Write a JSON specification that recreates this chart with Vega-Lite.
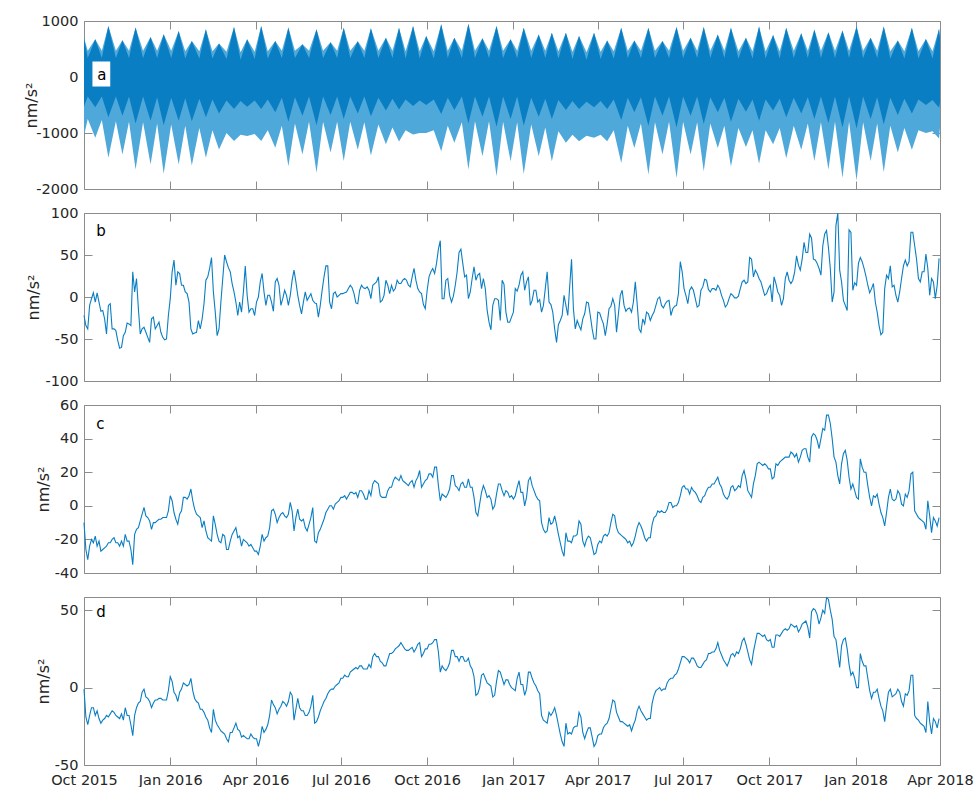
{
"$schema":"https://vega.github.io/schema/vega-lite/v6.json",
"padding":{"left":22,"top":12,"right":30,"bottom":0},
"background":"white",
"spacing":24,
"bounds":"flush",
"config":{
 "view":{"stroke":"#8c8c8c","strokeWidth":1},
 "font":"DejaVu Sans",
 "axis":{"labelFont":"DejaVu Sans","labelFontSize":14.5,"labelColor":"#262626","titleFont":"DejaVu Sans","titleFontSize":16,"titleFontWeight":"normal","titleColor":"#262626","grid":false,"domain":false,"tickColor":"#8c8c8c","tickSize":-8,"labelPadding":14}
},
"datasets":{
"tide":[
{"date":"2015-10-01","hi":700,"dhi":700,"lo":-1050,"dlo":-525},
{"date":"2015-10-05","hi":470,"dhi":340,"lo":-750,"dlo":-350},
{"date":"2015-10-13","hi":674,"dhi":674,"lo":-1085,"dlo":-540},
{"date":"2015-10-20","hi":470,"dhi":340,"lo":-770,"dlo":-350},
{"date":"2015-10-27","hi":912,"dhi":912,"lo":-1443,"dlo":-720},
{"date":"2015-11-04","hi":470,"dhi":340,"lo":-790,"dlo":-350},
{"date":"2015-11-11","hi":656,"dhi":656,"lo":-1383,"dlo":-690},
{"date":"2015-11-18","hi":470,"dhi":340,"lo":-800,"dlo":-350},
{"date":"2015-11-25","hi":883,"dhi":883,"lo":-1652,"dlo":-830},
{"date":"2015-12-03","hi":470,"dhi":340,"lo":-810,"dlo":-350},
{"date":"2015-12-11","hi":716,"dhi":716,"lo":-1562,"dlo":-780},
{"date":"2015-12-18","hi":470,"dhi":340,"lo":-830,"dlo":-360},
{"date":"2015-12-25","hi":763,"dhi":763,"lo":-1729,"dlo":-860},
{"date":"2016-01-02","hi":470,"dhi":340,"lo":-850,"dlo":-370},
{"date":"2016-01-10","hi":823,"dhi":823,"lo":-1562,"dlo":-780},
{"date":"2016-01-17","hi":460,"dhi":330,"lo":-870,"dlo":-380},
{"date":"2016-01-24","hi":644,"dhi":644,"lo":-1580,"dlo":-790},
{"date":"2016-02-01","hi":460,"dhi":330,"lo":-910,"dlo":-390},
{"date":"2016-02-08","hi":853,"dhi":853,"lo":-1443,"dlo":-720},
{"date":"2016-02-15","hi":460,"dhi":330,"lo":-950,"dlo":-400},
{"date":"2016-02-22","hi":596,"dhi":596,"lo":-1294,"dlo":-650},
{"date":"2016-03-01","hi":450,"dhi":320,"lo":-1000,"dlo":-420},
{"date":"2016-03-09","hi":894,"dhi":894,"lo":-1145,"dlo":-570},
{"date":"2016-03-16","hi":440,"dhi":310,"lo":-1030,"dlo":-430},
{"date":"2016-03-23","hi":674,"dhi":674,"lo":-1055,"dlo":-530},
{"date":"2016-03-31","hi":450,"dhi":320,"lo":-1020,"dlo":-420},
{"date":"2016-04-07","hi":912,"dhi":912,"lo":-1145,"dlo":-570},
{"date":"2016-04-14","hi":460,"dhi":330,"lo":-950,"dlo":-400},
{"date":"2016-04-22","hi":644,"dhi":644,"lo":-1264,"dlo":-630},
{"date":"2016-04-29","hi":470,"dhi":340,"lo":-870,"dlo":-370},
{"date":"2016-05-06","hi":883,"dhi":883,"lo":-1592,"dlo":-800},
{"date":"2016-05-13","hi":470,"dhi":340,"lo":-830,"dlo":-360},
{"date":"2016-05-21","hi":584,"dhi":584,"lo":-1383,"dlo":-690},
{"date":"2016-05-28","hi":470,"dhi":340,"lo":-800,"dlo":-350},
{"date":"2016-06-05","hi":853,"dhi":853,"lo":-1711,"dlo":-860},
{"date":"2016-06-12","hi":470,"dhi":340,"lo":-800,"dlo":-350},
{"date":"2016-06-20","hi":620,"dhi":620,"lo":-1350,"dlo":-680},
{"date":"2016-06-27","hi":470,"dhi":340,"lo":-800,"dlo":-350},
{"date":"2016-07-04","hi":880,"dhi":880,"lo":-1500,"dlo":-750},
{"date":"2016-07-11","hi":470,"dhi":340,"lo":-800,"dlo":-350},
{"date":"2016-07-19","hi":640,"dhi":640,"lo":-1300,"dlo":-650},
{"date":"2016-07-26","hi":470,"dhi":340,"lo":-810,"dlo":-350},
{"date":"2016-08-02","hi":870,"dhi":870,"lo":-1400,"dlo":-700},
{"date":"2016-08-10","hi":470,"dhi":340,"lo":-850,"dlo":-370},
{"date":"2016-08-18","hi":700,"dhi":700,"lo":-1200,"dlo":-600},
{"date":"2016-08-25","hi":470,"dhi":340,"lo":-900,"dlo":-390},
{"date":"2016-09-01","hi":880,"dhi":880,"lo":-1150,"dlo":-580},
{"date":"2016-09-08","hi":460,"dhi":330,"lo":-950,"dlo":-400},
{"date":"2016-09-16","hi":910,"dhi":910,"lo":-1027,"dlo":-520},
{"date":"2016-09-23","hi":460,"dhi":330,"lo":-1000,"dlo":-420},
{"date":"2016-09-30","hi":732,"dhi":732,"lo":-1000,"dlo":-500},
{"date":"2016-10-08","hi":460,"dhi":330,"lo":-950,"dlo":-400},
{"date":"2016-10-16","hi":940,"dhi":940,"lo":-1326,"dlo":-660},
{"date":"2016-10-23","hi":470,"dhi":340,"lo":-870,"dlo":-370},
{"date":"2016-10-30","hi":702,"dhi":702,"lo":-1176,"dlo":-590},
{"date":"2016-11-07","hi":470,"dhi":340,"lo":-810,"dlo":-350},
{"date":"2016-11-14","hi":952,"dhi":952,"lo":-1654,"dlo":-830},
{"date":"2016-11-21","hi":470,"dhi":340,"lo":-790,"dlo":-350},
{"date":"2016-11-29","hi":690,"dhi":690,"lo":-1415,"dlo":-710},
{"date":"2016-12-06","hi":470,"dhi":340,"lo":-790,"dlo":-350},
{"date":"2016-12-14","hi":910,"dhi":910,"lo":-1773,"dlo":-890},
{"date":"2016-12-21","hi":470,"dhi":340,"lo":-800,"dlo":-350},
{"date":"2016-12-29","hi":672,"dhi":672,"lo":-1504,"dlo":-750},
{"date":"2017-01-05","hi":470,"dhi":340,"lo":-810,"dlo":-350},
{"date":"2017-01-12","hi":881,"dhi":881,"lo":-1731,"dlo":-870},
{"date":"2017-01-20","hi":470,"dhi":340,"lo":-850,"dlo":-370},
{"date":"2017-01-28","hi":761,"dhi":761,"lo":-1415,"dlo":-710},
{"date":"2017-02-04","hi":470,"dhi":340,"lo":-900,"dlo":-390},
{"date":"2017-02-11","hi":791,"dhi":791,"lo":-1504,"dlo":-750},
{"date":"2017-02-18","hi":460,"dhi":330,"lo":-970,"dlo":-410},
{"date":"2017-02-26","hi":791,"dhi":791,"lo":-1176,"dlo":-590},
{"date":"2017-03-05","hi":450,"dhi":320,"lo":-1030,"dlo":-430},
{"date":"2017-03-12","hi":732,"dhi":732,"lo":-1147,"dlo":-570},
{"date":"2017-03-20","hi":440,"dhi":310,"lo":-1050,"dlo":-440},
{"date":"2017-03-28","hi":791,"dhi":791,"lo":-1087,"dlo":-540},
{"date":"2017-04-04","hi":450,"dhi":320,"lo":-1030,"dlo":-430},
{"date":"2017-04-11","hi":654,"dhi":654,"lo":-1147,"dlo":-570},
{"date":"2017-04-18","hi":460,"dhi":330,"lo":-950,"dlo":-400},
{"date":"2017-04-26","hi":881,"dhi":881,"lo":-1534,"dlo":-770},
{"date":"2017-05-03","hi":470,"dhi":340,"lo":-870,"dlo":-370},
{"date":"2017-05-10","hi":654,"dhi":654,"lo":-1266,"dlo":-630},
{"date":"2017-05-17","hi":470,"dhi":340,"lo":-830,"dlo":-360},
{"date":"2017-05-25","hi":881,"dhi":881,"lo":-1743,"dlo":-870},
{"date":"2017-06-01","hi":470,"dhi":340,"lo":-810,"dlo":-350},
{"date":"2017-06-09","hi":642,"dhi":642,"lo":-1385,"dlo":-690},
{"date":"2017-06-16","hi":470,"dhi":340,"lo":-800,"dlo":-350},
{"date":"2017-06-24","hi":893,"dhi":893,"lo":-1803,"dlo":-900},
{"date":"2017-07-01","hi":470,"dhi":340,"lo":-800,"dlo":-350},
{"date":"2017-07-09","hi":702,"dhi":702,"lo":-1385,"dlo":-690},
{"date":"2017-07-16","hi":470,"dhi":340,"lo":-810,"dlo":-350},
{"date":"2017-07-23","hi":893,"dhi":893,"lo":-1684,"dlo":-840},
{"date":"2017-07-30","hi":470,"dhi":340,"lo":-830,"dlo":-360},
{"date":"2017-08-07","hi":761,"dhi":761,"lo":-1266,"dlo":-630},
{"date":"2017-08-14","hi":470,"dhi":340,"lo":-870,"dlo":-370},
{"date":"2017-08-21","hi":880,"dhi":880,"lo":-1600,"dlo":-800},
{"date":"2017-08-29","hi":460,"dhi":330,"lo":-910,"dlo":-390},
{"date":"2017-09-06","hi":700,"dhi":700,"lo":-1250,"dlo":-620},
{"date":"2017-09-13","hi":460,"dhi":330,"lo":-950,"dlo":-400},
{"date":"2017-09-20","hi":900,"dhi":900,"lo":-1550,"dlo":-780},
{"date":"2017-09-27","hi":460,"dhi":330,"lo":-950,"dlo":-400},
{"date":"2017-10-05","hi":750,"dhi":750,"lo":-1200,"dlo":-600},
{"date":"2017-10-12","hi":460,"dhi":330,"lo":-910,"dlo":-390},
{"date":"2017-10-19","hi":880,"dhi":880,"lo":-1450,"dlo":-720},
{"date":"2017-10-27","hi":470,"dhi":340,"lo":-870,"dlo":-370},
{"date":"2017-11-04","hi":780,"dhi":780,"lo":-1300,"dlo":-650},
{"date":"2017-11-11","hi":470,"dhi":340,"lo":-830,"dlo":-360},
{"date":"2017-11-18","hi":850,"dhi":850,"lo":-1500,"dlo":-750},
{"date":"2017-11-25","hi":470,"dhi":340,"lo":-810,"dlo":-350},
{"date":"2017-12-03","hi":800,"dhi":800,"lo":-1650,"dlo":-820},
{"date":"2017-12-10","hi":470,"dhi":340,"lo":-800,"dlo":-350},
{"date":"2017-12-18","hi":830,"dhi":830,"lo":-1800,"dlo":-900},
{"date":"2017-12-25","hi":470,"dhi":340,"lo":-800,"dlo":-350},
{"date":"2018-01-02","hi":900,"dhi":900,"lo":-1850,"dlo":-920},
{"date":"2018-01-09","hi":470,"dhi":340,"lo":-810,"dlo":-350},
{"date":"2018-01-17","hi":700,"dhi":700,"lo":-1500,"dlo":-750},
{"date":"2018-01-24","hi":470,"dhi":340,"lo":-830,"dlo":-360},
{"date":"2018-01-31","hi":900,"dhi":900,"lo":-1700,"dlo":-850},
{"date":"2018-02-07","hi":460,"dhi":330,"lo":-870,"dlo":-370},
{"date":"2018-02-15","hi":650,"dhi":650,"lo":-1350,"dlo":-680},
{"date":"2018-02-22","hi":460,"dhi":330,"lo":-910,"dlo":-390},
{"date":"2018-03-02","hi":880,"dhi":880,"lo":-1300,"dlo":-650},
{"date":"2018-03-09","hi":460,"dhi":330,"lo":-950,"dlo":-400},
{"date":"2018-03-17","hi":680,"dhi":680,"lo":-1000,"dlo":-500},
{"date":"2018-03-24","hi":460,"dhi":330,"lo":-970,"dlo":-410},
{"date":"2018-03-31","hi":860,"dhi":860,"lo":-1100,"dlo":-550},
{"date":"2018-04-01","hi":700,"dhi":700,"lo":-900,"dlo":-450}
],
"bcd":[
{"date":"2015-10-01","b":-22,"c":-10,"d":-1},
{"date":"2015-10-05","b":-38,"c":-32,"d":-24},
{"date":"2015-10-09","b":-2,"c":-20,"d":-13},
{"date":"2015-10-13","b":-6,"c":-18,"d":-18},
{"date":"2015-10-17","b":-6,"c":-21,"d":-20},
{"date":"2015-10-21","b":-16,"c":-26,"d":-21},
{"date":"2015-10-25","b":-44,"c":-24,"d":-18},
{"date":"2015-10-29","b":-8,"c":-22,"d":-17},
{"date":"2015-11-02","b":-38,"c":-19,"d":-16},
{"date":"2015-11-06","b":-52,"c":-22,"d":-19},
{"date":"2015-11-10","b":-60,"c":-21,"d":-17},
{"date":"2015-11-14","b":-42,"c":-17,"d":-13},
{"date":"2015-11-18","b":-32,"c":-21,"d":-18},
{"date":"2015-11-22","b":30,"c":-35,"d":-31},
{"date":"2015-11-26","b":22,"c":-14,"d":-13},
{"date":"2015-11-30","b":-44,"c":-9,"d":-9},
{"date":"2015-12-04","b":-36,"c":-1,"d":-1},
{"date":"2015-12-08","b":-48,"c":-7,"d":-7},
{"date":"2015-12-12","b":-26,"c":-14,"d":-13},
{"date":"2015-12-16","b":-38,"c":-10,"d":-8},
{"date":"2015-12-20","b":-30,"c":-8,"d":-7},
{"date":"2015-12-24","b":-48,"c":-7,"d":-8},
{"date":"2015-12-28","b":-50,"c":-7,"d":-8},
{"date":"2016-01-01","b":-2,"c":6,"d":7},
{"date":"2016-01-05","b":44,"c":-4,"d":-3},
{"date":"2016-01-09","b":30,"c":-11,"d":-9},
{"date":"2016-01-13","b":14,"c":-3,"d":-1},
{"date":"2016-01-17","b":6,"c":5,"d":2},
{"date":"2016-01-21","b":-6,"c":6,"d":2},
{"date":"2016-01-25","b":-44,"c":3,"d":-2},
{"date":"2016-01-29","b":-42,"c":-5,"d":-9},
{"date":"2016-02-02","b":-38,"c":-7,"d":-14},
{"date":"2016-02-06","b":-8,"c":-9,"d":-16},
{"date":"2016-02-10","b":24,"c":-19,"d":-21},
{"date":"2016-02-14","b":47,"c":-21,"d":-29},
{"date":"2016-02-18","b":-18,"c":-11,"d":-21},
{"date":"2016-02-22","b":-38,"c":-21,"d":-26},
{"date":"2016-02-26","b":22,"c":-17,"d":-29},
{"date":"2016-03-01","b":42,"c":-26,"d":-33},
{"date":"2016-03-05","b":30,"c":-21,"d":-29},
{"date":"2016-03-09","b":6,"c":-15,"d":-26},
{"date":"2016-03-13","b":-22,"c":-19,"d":-27},
{"date":"2016-03-17","b":-18,"c":-24,"d":-32},
{"date":"2016-03-21","b":37,"c":-21,"d":-32},
{"date":"2016-03-25","b":-18,"c":-24,"d":-33},
{"date":"2016-03-29","b":-14,"c":-25,"d":-32},
{"date":"2016-04-02","b":-6,"c":-27,"d":-33},
{"date":"2016-04-06","b":18,"c":-24,"d":-33},
{"date":"2016-04-10","b":6,"c":-21,"d":-29},
{"date":"2016-04-14","b":2,"c":-18,"d":-24},
{"date":"2016-04-18","b":-6,"c":-3,"d":-8},
{"date":"2016-04-22","b":18,"c":-5,"d":-13},
{"date":"2016-04-26","b":14,"c":-7,"d":-14},
{"date":"2016-04-30","b":-2,"c":-4,"d":-9},
{"date":"2016-05-04","b":2,"c":-7,"d":-12},
{"date":"2016-05-08","b":2,"c":2,"d":-3},
{"date":"2016-05-12","b":32,"c":-15,"d":-21},
{"date":"2016-05-16","b":2,"c":-2,"d":-7},
{"date":"2016-05-20","b":-20,"c":-9,"d":-15},
{"date":"2016-05-24","b":6,"c":-13,"d":-18},
{"date":"2016-05-28","b":0,"c":-11,"d":-16},
{"date":"2016-06-01","b":-4,"c":-1,"d":-5},
{"date":"2016-06-05","b":-8,"c":-22,"d":-22},
{"date":"2016-06-09","b":-10,"c":-14,"d":-15},
{"date":"2016-06-13","b":24,"c":-8,"d":-9},
{"date":"2016-06-17","b":37,"c":-2,"d":-4},
{"date":"2016-06-21","b":-14,"c":0,"d":-1},
{"date":"2016-06-25","b":6,"c":1,"d":1},
{"date":"2016-06-29","b":2,"c":3,"d":3},
{"date":"2016-07-03","b":4,"c":5,"d":6},
{"date":"2016-07-07","b":6,"c":4,"d":7},
{"date":"2016-07-11","b":14,"c":8,"d":10},
{"date":"2016-07-15","b":4,"c":7,"d":12},
{"date":"2016-07-19","b":-8,"c":5,"d":12},
{"date":"2016-07-23","b":14,"c":9,"d":14},
{"date":"2016-07-27","b":10,"c":4,"d":12},
{"date":"2016-07-31","b":8,"c":9,"d":15},
{"date":"2016-08-04","b":14,"c":13,"d":20},
{"date":"2016-08-08","b":18,"c":14,"d":20},
{"date":"2016-08-12","b":-6,"c":6,"d":17},
{"date":"2016-08-16","b":2,"c":5,"d":14},
{"date":"2016-08-20","b":14,"c":9,"d":18},
{"date":"2016-08-24","b":14,"c":11,"d":22},
{"date":"2016-08-28","b":10,"c":17,"d":25},
{"date":"2016-09-01","b":16,"c":15,"d":27},
{"date":"2016-09-05","b":20,"c":15,"d":27},
{"date":"2016-09-09","b":20,"c":13,"d":24},
{"date":"2016-09-13","b":12,"c":14,"d":25},
{"date":"2016-09-17","b":34,"c":11,"d":23},
{"date":"2016-09-21","b":10,"c":17,"d":28},
{"date":"2016-09-25","b":4,"c":11,"d":20},
{"date":"2016-09-29","b":-14,"c":15,"d":25},
{"date":"2016-10-03","b":24,"c":19,"d":28},
{"date":"2016-10-07","b":34,"c":17,"d":29},
{"date":"2016-10-11","b":40,"c":23,"d":31},
{"date":"2016-10-15","b":67,"c":3,"d":10},
{"date":"2016-10-19","b":-2,"c":6,"d":12},
{"date":"2016-10-23","b":22,"c":7,"d":13},
{"date":"2016-10-27","b":-6,"c":18,"d":24},
{"date":"2016-10-31","b":14,"c":12,"d":20},
{"date":"2016-11-04","b":53,"c":9,"d":17},
{"date":"2016-11-08","b":40,"c":14,"d":20},
{"date":"2016-11-12","b":26,"c":11,"d":17},
{"date":"2016-11-16","b":6,"c":11,"d":14},
{"date":"2016-11-20","b":36,"c":5,"d":7},
{"date":"2016-11-24","b":26,"c":-6,"d":-4},
{"date":"2016-11-28","b":10,"c":8,"d":8},
{"date":"2016-12-02","b":10,"c":9,"d":6},
{"date":"2016-12-06","b":-30,"c":6,"d":2},
{"date":"2016-12-10","b":-10,"c":-2,"d":-6},
{"date":"2016-12-14","b":-2,"c":7,"d":4},
{"date":"2016-12-18","b":-28,"c":13,"d":10},
{"date":"2016-12-22","b":15,"c":6,"d":2},
{"date":"2016-12-26","b":-30,"c":8,"d":5},
{"date":"2016-12-30","b":-24,"c":6,"d":0},
{"date":"2017-01-03","b":10,"c":6,"d":-2},
{"date":"2017-01-07","b":14,"c":15,"d":10},
{"date":"2017-01-11","b":30,"c":8,"d":2},
{"date":"2017-01-15","b":18,"c":5,"d":-1},
{"date":"2017-01-19","b":-10,"c":17,"d":10},
{"date":"2017-01-23","b":8,"c":9,"d":3},
{"date":"2017-01-27","b":-6,"c":4,"d":-2},
{"date":"2017-01-31","b":-18,"c":-10,"d":-18},
{"date":"2017-02-04","b":10,"c":-16,"d":-22},
{"date":"2017-02-08","b":-6,"c":-7,"d":-16},
{"date":"2017-02-12","b":-18,"c":-10,"d":-16},
{"date":"2017-02-16","b":-54,"c":-11,"d":-18},
{"date":"2017-02-20","b":-28,"c":-22,"d":-30},
{"date":"2017-02-24","b":2,"c":-30,"d":-38},
{"date":"2017-02-28","b":-22,"c":-21,"d":-30},
{"date":"2017-03-04","b":45,"c":-22,"d":-30},
{"date":"2017-03-08","b":-38,"c":-18,"d":-25},
{"date":"2017-03-12","b":-34,"c":-9,"d":-16},
{"date":"2017-03-16","b":-26,"c":-21,"d":-29},
{"date":"2017-03-20","b":-6,"c":-20,"d":-29},
{"date":"2017-03-24","b":-22,"c":-19,"d":-26},
{"date":"2017-03-28","b":-50,"c":-29,"d":-38},
{"date":"2017-04-01","b":-18,"c":-23,"d":-31},
{"date":"2017-04-05","b":-26,"c":-22,"d":-30},
{"date":"2017-04-09","b":-46,"c":-17,"d":-24},
{"date":"2017-04-13","b":-14,"c":-16,"d":-20},
{"date":"2017-04-17","b":-2,"c":-5,"d":-8},
{"date":"2017-04-21","b":-42,"c":-13,"d":-16},
{"date":"2017-04-25","b":2,"c":-17,"d":-22},
{"date":"2017-04-29","b":-10,"c":-19,"d":-23},
{"date":"2017-05-03","b":-14,"c":-22,"d":-25},
{"date":"2017-05-07","b":-18,"c":-24,"d":-28},
{"date":"2017-05-11","b":18,"c":-18,"d":-21},
{"date":"2017-05-15","b":-38,"c":-10,"d":-12},
{"date":"2017-05-19","b":-26,"c":-15,"d":-17},
{"date":"2017-05-23","b":-18,"c":-21,"d":-21},
{"date":"2017-05-27","b":-28,"c":-19,"d":-20},
{"date":"2017-05-31","b":-18,"c":-7,"d":-5},
{"date":"2017-06-04","b":-2,"c":-3,"d":-1},
{"date":"2017-06-08","b":-10,"c":-3,"d":-2},
{"date":"2017-06-12","b":-8,"c":-4,"d":-1},
{"date":"2017-06-16","b":-4,"c":2,"d":5},
{"date":"2017-06-20","b":-14,"c":-1,"d":6},
{"date":"2017-06-24","b":-10,"c":0,"d":9},
{"date":"2017-06-28","b":42,"c":6,"d":16},
{"date":"2017-07-02","b":10,"c":12,"d":20},
{"date":"2017-07-06","b":-8,"c":10,"d":18},
{"date":"2017-07-10","b":12,"c":11,"d":19},
{"date":"2017-07-14","b":-2,"c":8,"d":17},
{"date":"2017-07-18","b":-10,"c":3,"d":13},
{"date":"2017-07-22","b":12,"c":5,"d":15},
{"date":"2017-07-26","b":20,"c":9,"d":18},
{"date":"2017-07-30","b":6,"c":11,"d":22},
{"date":"2017-08-03","b":10,"c":13,"d":23},
{"date":"2017-08-07","b":14,"c":17,"d":29},
{"date":"2017-08-11","b":2,"c":11,"d":21},
{"date":"2017-08-15","b":-12,"c":5,"d":16},
{"date":"2017-08-19","b":-2,"c":6,"d":17},
{"date":"2017-08-23","b":2,"c":12,"d":22},
{"date":"2017-08-27","b":-1,"c":10,"d":23},
{"date":"2017-08-31","b":10,"c":11,"d":25},
{"date":"2017-09-04","b":20,"c":21,"d":32},
{"date":"2017-09-08","b":18,"c":9,"d":23},
{"date":"2017-09-12","b":45,"c":5,"d":15},
{"date":"2017-09-16","b":32,"c":18,"d":29},
{"date":"2017-09-20","b":22,"c":26,"d":35},
{"date":"2017-09-24","b":10,"c":24,"d":33},
{"date":"2017-09-28","b":4,"c":24,"d":31},
{"date":"2017-10-02","b":14,"c":22,"d":31},
{"date":"2017-10-06","b":24,"c":17,"d":26},
{"date":"2017-10-10","b":6,"c":24,"d":34},
{"date":"2017-10-14","b":-10,"c":27,"d":35},
{"date":"2017-10-18","b":22,"c":29,"d":38},
{"date":"2017-10-22","b":20,"c":29,"d":38},
{"date":"2017-10-26","b":20,"c":31,"d":40},
{"date":"2017-10-30","b":49,"c":31,"d":40},
{"date":"2017-11-03","b":32,"c":29,"d":38},
{"date":"2017-11-07","b":65,"c":34,"d":42},
{"date":"2017-11-11","b":53,"c":29,"d":39},
{"date":"2017-11-15","b":70,"c":41,"d":49},
{"date":"2017-11-19","b":44,"c":42,"d":50},
{"date":"2017-11-23","b":34,"c":34,"d":41},
{"date":"2017-11-27","b":61,"c":46,"d":50},
{"date":"2017-12-01","b":79,"c":54,"d":58},
{"date":"2017-12-05","b":34,"c":49,"d":50},
{"date":"2017-12-09","b":6,"c":29,"d":33},
{"date":"2017-12-13","b":100,"c":18,"d":22},
{"date":"2017-12-17","b":18,"c":25,"d":27},
{"date":"2017-12-21","b":-10,"c":33,"d":32},
{"date":"2017-12-25","b":80,"c":17,"d":15},
{"date":"2017-12-29","b":8,"c":13,"d":10},
{"date":"2018-01-02","b":14,"c":5,"d":0},
{"date":"2018-01-06","b":47,"c":28,"d":22},
{"date":"2018-01-10","b":34,"c":20,"d":14},
{"date":"2018-01-14","b":14,"c":12,"d":6},
{"date":"2018-01-18","b":10,"c":0,"d":-7},
{"date":"2018-01-22","b":-6,"c":5,"d":-3},
{"date":"2018-01-26","b":-34,"c":1,"d":-7},
{"date":"2018-01-30","b":-42,"c":-7,"d":-15},
{"date":"2018-02-03","b":26,"c":-4,"d":-12},
{"date":"2018-02-07","b":37,"c":10,"d":-1},
{"date":"2018-02-11","b":14,"c":3,"d":-5},
{"date":"2018-02-15","b":-6,"c":9,"d":-1},
{"date":"2018-02-19","b":22,"c":1,"d":-9},
{"date":"2018-02-23","b":44,"c":7,"d":-4},
{"date":"2018-02-27","b":42,"c":9,"d":-2},
{"date":"2018-03-03","b":77,"c":20,"d":8},
{"date":"2018-03-07","b":45,"c":-5,"d":-20},
{"date":"2018-03-11","b":18,"c":-8,"d":-23},
{"date":"2018-03-15","b":30,"c":-10,"d":-25},
{"date":"2018-03-19","b":34,"c":3,"d":-9},
{"date":"2018-03-23","b":22,"c":-16,"d":-30},
{"date":"2018-03-27","b":-2,"c":-9,"d":-22},
{"date":"2018-03-31","b":46,"c":-7,"d":-20},
{"date":"2015-10-03","b":-34,"c":-26,"d":-19},
{"date":"2015-10-07","b":-10,"c":-24,"d":-18},
{"date":"2015-10-11","b":5,"c":-22,"d":-13},
{"date":"2015-10-15","b":5,"c":-24,"d":-15},
{"date":"2015-10-19","b":-17,"c":-27,"d":-23},
{"date":"2015-10-23","b":-26,"c":-25,"d":-20},
{"date":"2015-10-27","b":-10,"c":-22,"d":-19},
{"date":"2015-10-31","b":-38,"c":-20,"d":-15},
{"date":"2015-11-04","b":-40,"c":-22,"d":-18},
{"date":"2015-11-08","b":-61,"c":-24,"d":-20},
{"date":"2015-11-12","b":-46,"c":-24,"d":-21},
{"date":"2015-11-16","b":-31,"c":-21,"d":-18},
{"date":"2015-11-20","b":-34,"c":-26,"d":-24},
{"date":"2015-11-24","b":6,"c":-17,"d":-18},
{"date":"2015-11-28","b":-14,"c":-13,"d":-10},
{"date":"2015-12-02","b":-38,"c":-5,"d":-3},
{"date":"2015-12-06","b":-42,"c":-6,"d":-6},
{"date":"2015-12-10","b":-54,"c":-9,"d":-9},
{"date":"2015-12-14","b":-24,"c":-10,"d":-10},
{"date":"2015-12-18","b":-34,"c":-9,"d":-8},
{"date":"2015-12-22","b":-42,"c":-8,"d":-7},
{"date":"2015-12-26","b":-51,"c":-7,"d":-8},
{"date":"2015-12-30","b":-22,"c":-3,"d":-2},
{"date":"2016-01-03","b":30,"c":3,"d":4},
{"date":"2016-01-07","b":14,"c":-8,"d":-5},
{"date":"2016-01-11","b":28,"c":-5,"d":-3},
{"date":"2016-01-15","b":14,"c":5,"d":3},
{"date":"2016-01-19","b":4,"c":4,"d":1},
{"date":"2016-01-23","b":-38,"c":10,"d":6},
{"date":"2016-01-27","b":-43,"c":-2,"d":-7},
{"date":"2016-01-31","b":-28,"c":-6,"d":-10},
{"date":"2016-02-04","b":-26,"c":-13,"d":-14},
{"date":"2016-02-08","b":20,"c":-15,"d":-19},
{"date":"2016-02-12","b":34,"c":-20,"d":-26},
{"date":"2016-02-16","b":6,"c":-6,"d":-14},
{"date":"2016-02-20","b":-46,"c":-17,"d":-24},
{"date":"2016-02-24","b":-6,"c":-22,"d":-28},
{"date":"2016-02-28","b":50,"c":-18,"d":-30},
{"date":"2016-03-03","b":35,"c":-26,"d":-35},
{"date":"2016-03-07","b":16,"c":-17,"d":-29},
{"date":"2016-03-11","b":-6,"c":-13,"d":-23},
{"date":"2016-03-15","b":-6,"c":-18,"d":-28},
{"date":"2016-03-19","b":6,"c":-20,"d":-31},
{"date":"2016-03-23","b":2,"c":-22,"d":-33},
{"date":"2016-03-27","b":-14,"c":-23,"d":-30},
{"date":"2016-03-31","b":-22,"c":-27,"d":-33},
{"date":"2016-04-04","b":0,"c":-29,"d":-38},
{"date":"2016-04-08","b":28,"c":-17,"d":-25},
{"date":"2016-04-12","b":-10,"c":-19,"d":-27},
{"date":"2016-04-16","b":2,"c":-13,"d":-18},
{"date":"2016-04-20","b":-17,"c":-2,"d":-11},
{"date":"2016-04-24","b":22,"c":-10,"d":-17},
{"date":"2016-04-28","b":-10,"c":-5,"d":-12},
{"date":"2016-05-02","b":8,"c":-6,"d":-10},
{"date":"2016-05-06","b":-10,"c":-5,"d":-9},
{"date":"2016-05-10","b":20,"c":-3,"d":-5},
{"date":"2016-05-14","b":18,"c":-7,"d":-14},
{"date":"2016-05-18","b":-10,"c":-8,"d":-13},
{"date":"2016-05-22","b":-6,"c":-8,"d":-15},
{"date":"2016-05-26","b":-4,"c":-15,"d":-18},
{"date":"2016-05-30","b":4,"c":-7,"d":-12},
{"date":"2016-06-03","b":-7,"c":-21,"d":-23},
{"date":"2016-06-07","b":-24,"c":-16,"d":-19},
{"date":"2016-06-11","b":8,"c":-11,"d":-12},
{"date":"2016-06-15","b":37,"c":-4,"d":-7},
{"date":"2016-06-19","b":-6,"c":0,"d":-2},
{"date":"2016-06-23","b":4,"c":-2,"d":-1},
{"date":"2016-06-27","b":0,"c":2,"d":2},
{"date":"2016-07-01","b":4,"c":5,"d":6},
{"date":"2016-07-05","b":5,"c":6,"d":8},
{"date":"2016-07-09","b":10,"c":6,"d":7},
{"date":"2016-07-13","b":11,"c":8,"d":11},
{"date":"2016-07-17","b":-7,"c":8,"d":13},
{"date":"2016-07-21","b":8,"c":9,"d":14},
{"date":"2016-07-25","b":11,"c":7,"d":12},
{"date":"2016-07-29","b":12,"c":4,"d":12},
{"date":"2016-08-02","b":-2,"c":6,"d":13},
{"date":"2016-08-06","b":16,"c":15,"d":22},
{"date":"2016-08-10","b":24,"c":13,"d":20},
{"date":"2016-08-14","b":-4,"c":5,"d":16},
{"date":"2016-08-18","b":20,"c":5,"d":14},
{"date":"2016-08-22","b":4,"c":11,"d":22},
{"date":"2016-08-26","b":7,"c":15,"d":23},
{"date":"2016-08-30","b":20,"c":16,"d":26},
{"date":"2016-09-03","b":16,"c":18,"d":29},
{"date":"2016-09-07","b":22,"c":14,"d":25},
{"date":"2016-09-11","b":14,"c":12,"d":24},
{"date":"2016-09-15","b":24,"c":15,"d":26},
{"date":"2016-09-19","b":20,"c":15,"d":25},
{"date":"2016-09-23","b":6,"c":21,"d":29},
{"date":"2016-09-27","b":-9,"c":13,"d":22},
{"date":"2016-10-01","b":8,"c":16,"d":25},
{"date":"2016-10-05","b":30,"c":19,"d":28},
{"date":"2016-10-09","b":28,"c":23,"d":31},
{"date":"2016-10-13","b":57,"c":12,"d":23},
{"date":"2016-10-17","b":-2,"c":7,"d":14},
{"date":"2016-10-21","b":20,"c":5,"d":11},
{"date":"2016-10-25","b":2,"c":10,"d":16},
{"date":"2016-10-29","b":1,"c":18,"d":24},
{"date":"2016-11-02","b":30,"c":11,"d":20},
{"date":"2016-11-06","b":57,"c":13,"d":20},
{"date":"2016-11-10","b":24,"c":11,"d":17},
{"date":"2016-11-14","b":-2,"c":16,"d":19},
{"date":"2016-11-18","b":22,"c":11,"d":12},
{"date":"2016-11-22","b":20,"c":-4,"d":-5},
{"date":"2016-11-26","b":28,"c":1,"d":0},
{"date":"2016-11-30","b":22,"c":12,"d":9},
{"date":"2016-12-04","b":-16,"c":5,"d":3},
{"date":"2016-12-08","b":-39,"c":4,"d":1},
{"date":"2016-12-12","b":-2,"c":0,"d":-5},
{"date":"2016-12-16","b":-4,"c":13,"d":11},
{"date":"2016-12-20","b":20,"c":9,"d":6},
{"date":"2016-12-24","b":-18,"c":9,"d":5},
{"date":"2016-12-28","b":-30,"c":5,"d":2},
{"date":"2017-01-01","b":-18,"c":4,"d":-1},
{"date":"2017-01-05","b":7,"c":11,"d":6},
{"date":"2017-01-09","b":26,"c":8,"d":2},
{"date":"2017-01-13","b":8,"c":0,"d":-5},
{"date":"2017-01-17","b":24,"c":15,"d":10},
{"date":"2017-01-21","b":-4,"c":12,"d":6},
{"date":"2017-01-25","b":8,"c":6,"d":1},
{"date":"2017-01-29","b":-3,"c":3,"d":-4},
{"date":"2017-02-02","b":-10,"c":-14,"d":-21},
{"date":"2017-02-06","b":30,"c":-15,"d":-23},
{"date":"2017-02-10","b":-9,"c":-11,"d":-18},
{"date":"2017-02-14","b":-38,"c":-6,"d":-13},
{"date":"2017-02-18","b":-33,"c":-17,"d":-24},
{"date":"2017-02-22","b":-22,"c":-27,"d":-35},
{"date":"2017-02-26","b":-10,"c":-16,"d":-23},
{"date":"2017-03-02","b":12,"c":-21,"d":-29},
{"date":"2017-03-06","b":-14,"c":-18,"d":-26},
{"date":"2017-03-10","b":-28,"c":-17,"d":-25},
{"date":"2017-03-14","b":-39,"c":-11,"d":-19},
{"date":"2017-03-18","b":-20,"c":-24,"d":-33},
{"date":"2017-03-22","b":-7,"c":-18,"d":-26},
{"date":"2017-03-26","b":-38,"c":-24,"d":-32},
{"date":"2017-03-30","b":-50,"c":-28,"d":-36},
{"date":"2017-04-03","b":-19,"c":-21,"d":-30},
{"date":"2017-04-07","b":-32,"c":-18,"d":-26},
{"date":"2017-04-11","b":-32,"c":-18,"d":-23},
{"date":"2017-04-15","b":-11,"c":-10,"d":-14},
{"date":"2017-04-19","b":-10,"c":-6,"d":-9},
{"date":"2017-04-23","b":-20,"c":-16,"d":-19},
{"date":"2017-04-27","b":8,"c":-18,"d":-22},
{"date":"2017-05-01","b":-17,"c":-20,"d":-24},
{"date":"2017-05-05","b":-13,"c":-21,"d":-24},
{"date":"2017-05-09","b":-6,"c":-22,"d":-24},
{"date":"2017-05-13","b":-8,"c":-13,"d":-15},
{"date":"2017-05-17","b":-42,"c":-12,"d":-15},
{"date":"2017-05-21","b":-32,"c":-19,"d":-19},
{"date":"2017-05-25","b":-20,"c":-19,"d":-20},
{"date":"2017-05-29","b":-22,"c":-11,"d":-10},
{"date":"2017-06-02","b":-10,"c":-6,"d":-2},
{"date":"2017-06-06","b":0,"c":-4,"d":0},
{"date":"2017-06-10","b":-13,"c":-4,"d":-1},
{"date":"2017-06-14","b":-5,"c":-2,"d":3},
{"date":"2017-06-18","b":-22,"c":2,"d":6},
{"date":"2017-06-22","b":-11,"c":0,"d":8},
{"date":"2017-06-26","b":4,"c":2,"d":12},
{"date":"2017-06-30","b":30,"c":11,"d":20},
{"date":"2017-07-04","b":2,"c":10,"d":19},
{"date":"2017-07-08","b":8,"c":7,"d":16},
{"date":"2017-07-12","b":8,"c":9,"d":19},
{"date":"2017-07-16","b":-12,"c":6,"d":14},
{"date":"2017-07-20","b":8,"c":2,"d":13},
{"date":"2017-07-24","b":21,"c":6,"d":17},
{"date":"2017-07-28","b":9,"c":11,"d":22},
{"date":"2017-08-01","b":10,"c":13,"d":23},
{"date":"2017-08-05","b":8,"c":15,"d":25},
{"date":"2017-08-09","b":10,"c":13,"d":24},
{"date":"2017-08-13","b":-4,"c":7,"d":18},
{"date":"2017-08-17","b":-9,"c":4,"d":14},
{"date":"2017-08-21","b":4,"c":11,"d":21},
{"date":"2017-08-25","b":-1,"c":9,"d":20},
{"date":"2017-08-29","b":1,"c":12,"d":22},
{"date":"2017-09-02","b":18,"c":18,"d":30},
{"date":"2017-09-06","b":16,"c":16,"d":28},
{"date":"2017-09-10","b":47,"c":7,"d":18},
{"date":"2017-09-14","b":24,"c":13,"d":23},
{"date":"2017-09-18","b":28,"c":25,"d":35},
{"date":"2017-09-22","b":18,"c":25,"d":34},
{"date":"2017-09-26","b":2,"c":25,"d":34},
{"date":"2017-09-30","b":10,"c":22,"d":30},
{"date":"2017-10-04","b":-6,"c":16,"d":26},
{"date":"2017-10-08","b":16,"c":25,"d":34},
{"date":"2017-10-12","b":2,"c":26,"d":33},
{"date":"2017-10-16","b":-2,"c":28,"d":37},
{"date":"2017-10-20","b":30,"c":29,"d":37},
{"date":"2017-10-24","b":16,"c":32,"d":41},
{"date":"2017-10-28","b":30,"c":29,"d":39},
{"date":"2017-11-01","b":38,"c":26,"d":36},
{"date":"2017-11-05","b":45,"c":33,"d":41},
{"date":"2017-11-09","b":53,"c":34,"d":43},
{"date":"2017-11-13","b":75,"c":26,"d":32},
{"date":"2017-11-17","b":45,"c":43,"d":51},
{"date":"2017-11-21","b":40,"c":39,"d":47},
{"date":"2017-11-25","b":26,"c":40,"d":45},
{"date":"2017-11-29","b":75,"c":45,"d":48},
{"date":"2017-12-03","b":59,"c":54,"d":57},
{"date":"2017-12-07","b":-6,"c":40,"d":44},
{"date":"2017-12-11","b":85,"c":26,"d":31},
{"date":"2017-12-15","b":32,"c":13,"d":13},
{"date":"2017-12-19","b":-4,"c":31,"d":31},
{"date":"2017-12-23","b":-16,"c":27,"d":25},
{"date":"2017-12-27","b":77,"c":10,"d":8},
{"date":"2017-12-31","b":17,"c":9,"d":6},
{"date":"2018-01-04","b":40,"c":4,"d":0},
{"date":"2018-01-08","b":42,"c":23,"d":17},
{"date":"2018-01-12","b":25,"c":20,"d":14},
{"date":"2018-01-16","b":5,"c":5,"d":-2},
{"date":"2018-01-20","b":16,"c":6,"d":-3},
{"date":"2018-01-24","b":-18,"c":7,"d":-1},
{"date":"2018-01-28","b":-45,"c":-4,"d":-12},
{"date":"2018-02-01","b":10,"c":-12,"d":-22},
{"date":"2018-02-05","b":22,"c":5,"d":-3},
{"date":"2018-02-09","b":12,"c":4,"d":-6},
{"date":"2018-02-13","b":2,"c":4,"d":-4},
{"date":"2018-02-17","b":6,"c":7,"d":-3},
{"date":"2018-02-21","b":37,"c":0,"d":-12},
{"date":"2018-02-25","b":37,"c":5,"d":-5},
{"date":"2018-03-01","b":77,"c":19,"d":8},
{"date":"2018-03-05","b":61,"c":-3,"d":-18},
{"date":"2018-03-09","b":22,"c":-7,"d":-21},
{"date":"2018-03-13","b":30,"c":-9,"d":-24},
{"date":"2018-03-17","b":51,"c":-14,"d":-29},
{"date":"2018-03-21","b":2,"c":-6,"d":-22},
{"date":"2018-03-25","b":18,"c":-7,"d":-20},
{"date":"2018-03-29","b":14,"c":-12,"d":-26}
]
},
"vconcat":[
{
 "width":856,"height":168,
 "layer":[
  {"data":{"name":"tide"},"mark":{"type":"area","color":"#4fa8da"},
   "encoding":{
    "x":{"field":"date","type":"temporal","scale":{"type":"utc","domain":[{"year":2015,"month":10,"date":1,"utc":true},{"year":2018,"month":4,"date":1,"utc":true}]},"axis":{"orient":"bottom","labels":false,"title":null,"values":[{"year":2015,"month":10,"date":1,"utc":true},{"year":2016,"month":1,"date":1,"utc":true},{"year":2016,"month":4,"date":1,"utc":true},{"year":2016,"month":7,"date":1,"utc":true},{"year":2016,"month":10,"date":1,"utc":true},{"year":2017,"month":1,"date":1,"utc":true},{"year":2017,"month":4,"date":1,"utc":true},{"year":2017,"month":7,"date":1,"utc":true},{"year":2017,"month":10,"date":1,"utc":true},{"year":2018,"month":1,"date":1,"utc":true},{"year":2018,"month":4,"date":1,"utc":true}]}},
    "y":{"field":"hi","type":"quantitative","scale":{"domain":[-2000,1000],"nice":false},"axis":{"orient":"left","values":[-2000,-1000,0,1000],"labelExpr":"'' + datum.value","title":"nm/s²","titleX":-48,"titleAngle":270,"titleBaseline":"alphabetic"}},
    "y2":{"field":"lo"}}},
  {"data":{"name":"tide"},"mark":{"type":"area","color":"#0a7ec3"},
   "encoding":{
    "x":{"field":"date","type":"temporal","scale":{"type":"utc"},"axis":null},
    "y":{"field":"dhi","type":"quantitative","axis":null},
    "y2":{"field":"dlo"}}},
  {"data":{"name":"tide"},"mark":{"type":"point","opacity":0},
   "encoding":{
    "x":{"field":"date","type":"temporal","scale":{"type":"utc"},"axis":{"orient":"top","labels":false,"title":null,"values":[{"year":2015,"month":10,"date":1,"utc":true},{"year":2016,"month":1,"date":1,"utc":true},{"year":2016,"month":4,"date":1,"utc":true},{"year":2016,"month":7,"date":1,"utc":true},{"year":2016,"month":10,"date":1,"utc":true},{"year":2017,"month":1,"date":1,"utc":true},{"year":2017,"month":4,"date":1,"utc":true},{"year":2017,"month":7,"date":1,"utc":true},{"year":2017,"month":10,"date":1,"utc":true},{"year":2018,"month":1,"date":1,"utc":true},{"year":2018,"month":4,"date":1,"utc":true}]}},
    "y":{"field":"hi","type":"quantitative","axis":{"orient":"right","labels":false,"title":null,"values":[-2000,-1000,0,1000]}}}},
  {"data":{"values":[{"x1":"2015-10-10","x2":"2015-10-29","y1":277,"y2":-170}]},"mark":{"type":"rect","color":"white"},
   "encoding":{
    "x":{"field":"x1","type":"temporal","scale":{"type":"utc"},"axis":null},"x2":{"field":"x2"},
    "y":{"field":"y1","type":"quantitative","axis":null},"y2":{"field":"y2"}}},
  {"data":{"values":[{"date":"2015-10-15","v":-50,"t":"a"}]},"mark":{"type":"text","align":"left","baseline":"alphabetic","fontSize":15,"font":"DejaVu Sans","color":"#000000"},
   "encoding":{
    "x":{"field":"date","type":"temporal","scale":{"type":"utc"},"axis":null},
    "y":{"field":"v","type":"quantitative","axis":null},
    "text":{"field":"t"}}}
 ],
 "resolve":{"axis":{"x":"independent","y":"independent"}}
},
{
 "width":856,"height":168,
 "layer":[
  {"data":{"name":"bcd"},"mark":{"type":"line","color":"#0a7ec3","strokeWidth":1.1},
   "encoding":{
    "x":{"field":"date","type":"temporal","scale":{"type":"utc","domain":[{"year":2015,"month":10,"date":1,"utc":true},{"year":2018,"month":4,"date":1,"utc":true}]},"axis":{"orient":"bottom","labels":false,"title":null,"values":[{"year":2015,"month":10,"date":1,"utc":true},{"year":2016,"month":1,"date":1,"utc":true},{"year":2016,"month":4,"date":1,"utc":true},{"year":2016,"month":7,"date":1,"utc":true},{"year":2016,"month":10,"date":1,"utc":true},{"year":2017,"month":1,"date":1,"utc":true},{"year":2017,"month":4,"date":1,"utc":true},{"year":2017,"month":7,"date":1,"utc":true},{"year":2017,"month":10,"date":1,"utc":true},{"year":2018,"month":1,"date":1,"utc":true},{"year":2018,"month":4,"date":1,"utc":true}]}},
    "y":{"field":"b","type":"quantitative","scale":{"domain":[-100,100],"nice":false},"axis":{"orient":"left","values":[-100,-50,0,50,100],"labelExpr":"'' + datum.value","title":"nm/s²","titleX":-46,"titleAngle":270,"titleBaseline":"alphabetic"}}}},
  {"data":{"name":"bcd"},"mark":{"type":"point","opacity":0},
   "encoding":{
    "x":{"field":"date","type":"temporal","scale":{"type":"utc"},"axis":{"orient":"top","labels":false,"title":null,"values":[{"year":2015,"month":10,"date":1,"utc":true},{"year":2016,"month":1,"date":1,"utc":true},{"year":2016,"month":4,"date":1,"utc":true},{"year":2016,"month":7,"date":1,"utc":true},{"year":2016,"month":10,"date":1,"utc":true},{"year":2017,"month":1,"date":1,"utc":true},{"year":2017,"month":4,"date":1,"utc":true},{"year":2017,"month":7,"date":1,"utc":true},{"year":2017,"month":10,"date":1,"utc":true},{"year":2018,"month":1,"date":1,"utc":true},{"year":2018,"month":4,"date":1,"utc":true}]}},
    "y":{"field":"b","type":"quantitative","axis":{"orient":"right","labels":false,"title":null,"values":[-100,-50,0,50,100]}}}},
  {"data":{"values":[{"date":"2015-10-14","v":73,"t":"b"}]},"mark":{"type":"text","align":"left","baseline":"alphabetic","fontSize":15,"font":"DejaVu Sans","color":"#000000"},
   "encoding":{
    "x":{"field":"date","type":"temporal","scale":{"type":"utc"},"axis":null},
    "y":{"field":"v","type":"quantitative","axis":null},
    "text":{"field":"t"}}}
 ],
 "resolve":{"axis":{"x":"independent","y":"independent"}}
},
{
 "width":856,"height":168,
 "layer":[
  {"data":{"name":"bcd"},"mark":{"type":"line","color":"#0a7ec3","strokeWidth":1.1},
   "encoding":{
    "x":{"field":"date","type":"temporal","scale":{"type":"utc","domain":[{"year":2015,"month":10,"date":1,"utc":true},{"year":2018,"month":4,"date":1,"utc":true}]},"axis":{"orient":"bottom","labels":false,"title":null,"values":[{"year":2015,"month":10,"date":1,"utc":true},{"year":2016,"month":1,"date":1,"utc":true},{"year":2016,"month":4,"date":1,"utc":true},{"year":2016,"month":7,"date":1,"utc":true},{"year":2016,"month":10,"date":1,"utc":true},{"year":2017,"month":1,"date":1,"utc":true},{"year":2017,"month":4,"date":1,"utc":true},{"year":2017,"month":7,"date":1,"utc":true},{"year":2017,"month":10,"date":1,"utc":true},{"year":2018,"month":1,"date":1,"utc":true},{"year":2018,"month":4,"date":1,"utc":true}]}},
    "y":{"field":"c","type":"quantitative","scale":{"domain":[-40,60],"nice":false},"axis":{"orient":"left","values":[-40,-20,0,20,40,60],"labelExpr":"'' + datum.value","title":"nm/s²","titleX":-36,"titleAngle":270,"titleBaseline":"alphabetic"}}}},
  {"data":{"name":"bcd"},"mark":{"type":"point","opacity":0},
   "encoding":{
    "x":{"field":"date","type":"temporal","scale":{"type":"utc"},"axis":{"orient":"top","labels":false,"title":null,"values":[{"year":2015,"month":10,"date":1,"utc":true},{"year":2016,"month":1,"date":1,"utc":true},{"year":2016,"month":4,"date":1,"utc":true},{"year":2016,"month":7,"date":1,"utc":true},{"year":2016,"month":10,"date":1,"utc":true},{"year":2017,"month":1,"date":1,"utc":true},{"year":2017,"month":4,"date":1,"utc":true},{"year":2017,"month":7,"date":1,"utc":true},{"year":2017,"month":10,"date":1,"utc":true},{"year":2018,"month":1,"date":1,"utc":true},{"year":2018,"month":4,"date":1,"utc":true}]}},
    "y":{"field":"c","type":"quantitative","axis":{"orient":"right","labels":false,"title":null,"values":[-40,-20,0,20,40,60]}}}},
  {"data":{"values":[{"date":"2015-10-14","v":46,"t":"c"}]},"mark":{"type":"text","align":"left","baseline":"alphabetic","fontSize":15,"font":"DejaVu Sans","color":"#000000"},
   "encoding":{
    "x":{"field":"date","type":"temporal","scale":{"type":"utc"},"axis":null},
    "y":{"field":"v","type":"quantitative","axis":null},
    "text":{"field":"t"}}}
 ],
 "resolve":{"axis":{"x":"independent","y":"independent"}}
},
{
 "width":856,"height":168,
 "layer":[
  {"data":{"name":"bcd"},"mark":{"type":"line","color":"#0a7ec3","strokeWidth":1.1},
   "encoding":{
    "x":{"field":"date","type":"temporal","scale":{"type":"utc","domain":[{"year":2015,"month":10,"date":1,"utc":true},{"year":2018,"month":4,"date":1,"utc":true}]},"axis":{"orient":"bottom","labels":true,"labelOverlap":false,"labelFlush":false,"format":"%b %Y","title":null,"labelPadding":16,"values":[{"year":2015,"month":10,"date":1,"utc":true},{"year":2016,"month":1,"date":1,"utc":true},{"year":2016,"month":4,"date":1,"utc":true},{"year":2016,"month":7,"date":1,"utc":true},{"year":2016,"month":10,"date":1,"utc":true},{"year":2017,"month":1,"date":1,"utc":true},{"year":2017,"month":4,"date":1,"utc":true},{"year":2017,"month":7,"date":1,"utc":true},{"year":2017,"month":10,"date":1,"utc":true},{"year":2018,"month":1,"date":1,"utc":true},{"year":2018,"month":4,"date":1,"utc":true}]}},
    "y":{"field":"d","type":"quantitative","scale":{"domain":[-50,58.5],"nice":false},"axis":{"orient":"left","values":[-50,0,50],"labelExpr":"'' + datum.value","title":"nm/s²","titleX":-36,"titleAngle":270,"titleBaseline":"alphabetic"}}}},
  {"data":{"name":"bcd"},"mark":{"type":"point","opacity":0},
   "encoding":{
    "x":{"field":"date","type":"temporal","scale":{"type":"utc"},"axis":{"orient":"top","labels":false,"title":null,"values":[{"year":2015,"month":10,"date":1,"utc":true},{"year":2016,"month":1,"date":1,"utc":true},{"year":2016,"month":4,"date":1,"utc":true},{"year":2016,"month":7,"date":1,"utc":true},{"year":2016,"month":10,"date":1,"utc":true},{"year":2017,"month":1,"date":1,"utc":true},{"year":2017,"month":4,"date":1,"utc":true},{"year":2017,"month":7,"date":1,"utc":true},{"year":2017,"month":10,"date":1,"utc":true},{"year":2018,"month":1,"date":1,"utc":true},{"year":2018,"month":4,"date":1,"utc":true}]}},
    "y":{"field":"d","type":"quantitative","axis":{"orient":"right","labels":false,"title":null,"values":[-50,0,50]}}}},
  {"data":{"values":[{"date":"2015-10-14","v":45.7,"t":"d"}]},"mark":{"type":"text","align":"left","baseline":"alphabetic","fontSize":15,"font":"DejaVu Sans","color":"#000000"},
   "encoding":{
    "x":{"field":"date","type":"temporal","scale":{"type":"utc"},"axis":null},
    "y":{"field":"v","type":"quantitative","axis":null},
    "text":{"field":"t"}}}
 ],
 "resolve":{"axis":{"x":"independent","y":"independent"}}
}
]
}
